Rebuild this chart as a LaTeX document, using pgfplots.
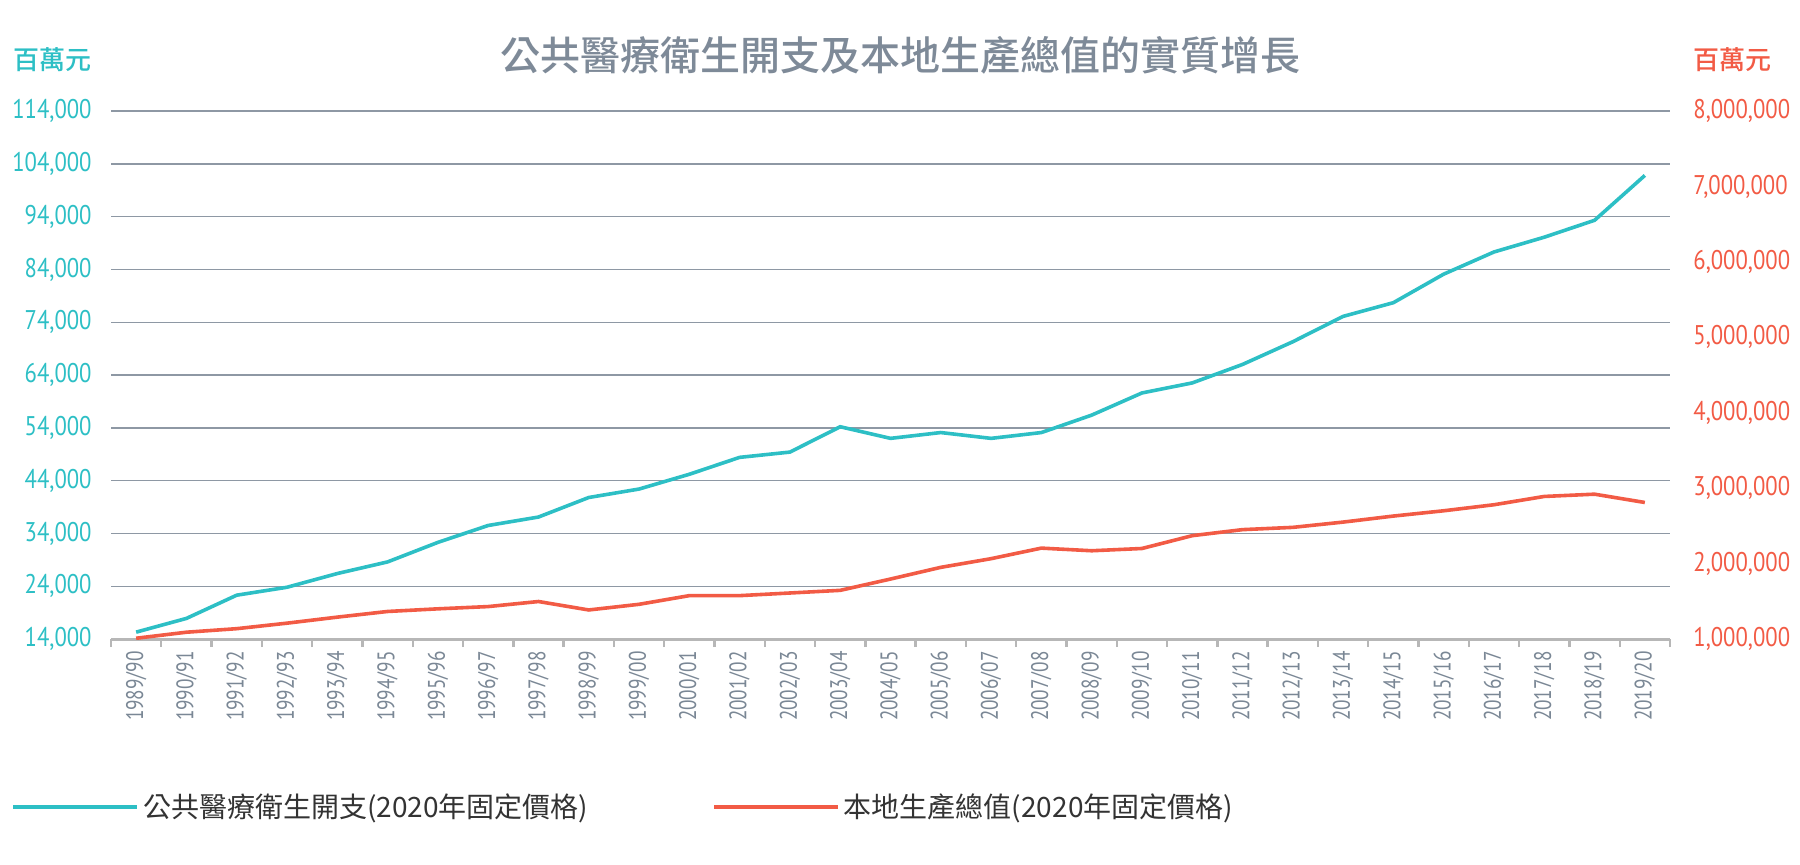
\documentclass[border=0pt]{standalone}
\usepackage{fontspec}
\usepackage{pgfplots}
\pgfplotsset{compat=1.18}
\setmainfont{Noto Sans CJK TC}
\newfontfamily\cjk{Noto Sans CJK TC}
\newfontfamily\cjkm{Noto Sans CJK TC Medium}
\newfontfamily\din[FakeStretch=0.84]{PT Sans}
\newfontfamily\dinx[FakeStretch=0.8]{PT Sans}

\definecolor{tealc}{HTML}{2DBFC5}
\definecolor{redc}{HTML}{F25B45}
\definecolor{titleg}{HTML}{7E8A98}
\definecolor{gridg}{HTML}{8E98A4}
\definecolor{axisg}{HTML}{B7B7B7}
\definecolor{xlab}{HTML}{7A8795}
\definecolor{legt}{HTML}{333333}

\begin{document}
\begin{tikzpicture}
\useasboundingbox (0,0) rectangle (900pt,432pt);
\node[font=\cjkm\fontsize{20}{24}\selectfont, text=titleg] at (450pt,404.5pt) {公共醫療衛生開支及本地生產總值的實質增長};
\node[font=\cjkm\fontsize{13}{15}\selectfont, text=tealc, anchor=east, inner sep=0pt] at (46pt,402pt) {百萬元};
\node[font=\cjkm\fontsize{13}{15}\selectfont, text=redc, anchor=west, inner sep=0pt] at (846.5pt,402pt) {百萬元};

% left axis: public health expenditure
\begin{axis}[
    at={(55.5pt,112.5pt)}, anchor=south west,
    scale only axis, width=779.5pt, height=264pt,
    xmin=-0.5, xmax=30.5,
    ymin=14000, ymax=114000,
    axis x line*=bottom, axis y line*=left,
    y axis line style={draw=none},
    x axis line style={draw=axisg, line width=1.5pt},
    xtick={0,...,30},
    xticklabels={1989/90,1990/91,1991/92,1992/93,1993/94,1994/95,1995/96,1996/97,1997/98,1998/99,1999/00,2000/01,2001/02,2002/03,2003/04,2004/05,2005/06,2006/07,2007/08,2008/09,2009/10,2010/11,2011/12,2012/13,2013/14,2014/15,2015/16,2016/17,2017/18,2018/19,2019/20},
    minor xtick={-0.5,0.5,...,30.5},
    tick align=outside,
    major tick length=0pt, minor tick length=4pt,
    minor x tick style={draw=axisg, line width=1.2pt},
    xticklabel style={rotate=90, anchor=east, inner sep=0pt, font=\dinx\fontsize{12}{14}\selectfont, text=xlab},
    xticklabel shift=6pt,
    ytick={14000,24000,34000,44000,54000,64000,74000,84000,94000,104000,114000},
    scaled y ticks=false,
    yticklabel style={anchor=east, inner sep=0pt, font=\din\fontsize{13.5}{15}\selectfont, text=tealc,
        /pgf/number format/.cd, fixed, precision=0, 1000 sep={,}, assume math mode=true},
    yticklabel shift=9.5pt,
    ymajorgrids, grid style={gridg, line width=0.7pt},
]
\addplot[tealc, line width=1.8pt] coordinates {
(0,15300) (1,17900) (2,22300) (3,23800) (4,26400) (5,28600) (6,32300) (7,35500)
(8,37100) (9,40800) (10,42400) (11,45200) (12,48400) (13,49400) (14,54200) (15,52000)
(16,53100) (17,52000) (18,53100) (19,56400) (20,60600) (21,62500) (22,66000) (23,70300)
(24,75100) (25,77700) (26,83100) (27,87300) (28,90100) (29,93300) (30,101800)
};
\end{axis}

% right axis: GDP
\begin{axis}[
    at={(55.5pt,112.5pt)}, anchor=south west,
    scale only axis, width=779.5pt, height=264pt,
    xmin=-0.5, xmax=30.5,
    ymin=1000000, ymax=8000000,
    axis x line=none, axis y line*=right,
    y axis line style={draw=none},
    major tick length=0pt,
    ytick={1000000,2000000,3000000,4000000,5000000,6000000,7000000,8000000},
    scaled y ticks=false,
    yticklabel style={anchor=west, inner sep=0pt, font=\din\fontsize{13.5}{15}\selectfont, text=redc,
        /pgf/number format/.cd, fixed, precision=0, 1000 sep={,}, assume math mode=true},
    yticklabel shift=11.5pt,
    legend columns=2,
    legend cell align=left,
    legend image code/.code={\draw[#1] (0pt,0pt) -- (62pt,0pt);},
    legend style={at={(-0.064,-0.318)}, anchor=west, draw=none, fill=none, inner sep=0pt,
        font=\color{legt}\cjk\fontsize{14}{16}\selectfont,
        /tikz/every even column/.append style={column sep=60pt}},
]
\addlegendimage{tealc, line width=1.8pt}
\addlegendentry{公共醫療衛生開支(2020年固定價格)}
\addplot[redc, line width=1.8pt] coordinates {
(0,1010000) (1,1090000) (2,1137000) (3,1210000) (4,1290000) (5,1365000) (6,1400000) (7,1430000)
(8,1497000) (9,1385000) (10,1460000) (11,1575000) (12,1575000) (13,1610000) (14,1645000) (15,1795000)
(16,1950000) (17,2065000) (18,2205000) (19,2170000) (20,2200000) (21,2370000) (22,2450000) (23,2480000)
(24,2550000) (25,2630000) (26,2700000) (27,2780000) (28,2890000) (29,2920000) (30,2810000)
};
\addlegendentry{本地生產總值(2020年固定價格)}
\end{axis}
\end{tikzpicture}
\end{document}
